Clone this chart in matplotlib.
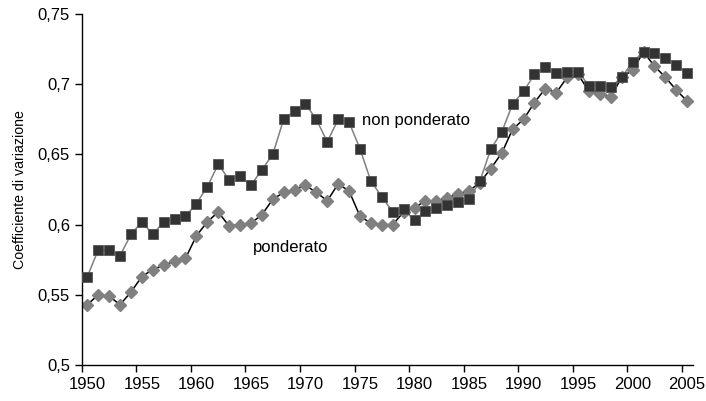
import matplotlib
matplotlib.use("Agg")
import matplotlib.pyplot as plt
import numpy as np

# years 1950-2005
years = list(range(1950, 2006))

non_ponderato = [
    0.563, 0.582, 0.582, 0.578, 0.593, 0.602, 0.593, 0.602, 0.604, 0.606,
    0.615, 0.627, 0.643, 0.632, 0.635, 0.628, 0.639, 0.650, 0.675, 0.681,
    0.686, 0.675, 0.659, 0.675, 0.673, 0.654, 0.631, 0.620, 0.609, 0.611,
    0.603, 0.610, 0.612, 0.614, 0.616, 0.618, 0.631, 0.654, 0.666, 0.686,
    0.695, 0.707, 0.712, 0.708, 0.709, 0.709, 0.699, 0.699, 0.698, 0.705,
    0.716, 0.723, 0.722, 0.719, 0.714, 0.708,
]

ponderato = [
    0.543, 0.550, 0.549, 0.543, 0.552, 0.563, 0.568, 0.571, 0.574, 0.576,
    0.592, 0.602, 0.609, 0.599, 0.600, 0.601, 0.607, 0.618, 0.623, 0.625,
    0.628, 0.623, 0.617, 0.629, 0.624, 0.606, 0.601, 0.600, 0.600, 0.609,
    0.612, 0.617, 0.617, 0.619, 0.622, 0.624, 0.630, 0.640, 0.651, 0.668,
    0.675, 0.687, 0.697, 0.694, 0.705, 0.707, 0.695, 0.693, 0.691, 0.705,
    0.710, 0.723, 0.713, 0.705, 0.696, 0.688,
]

y_ticks = [0.5, 0.55, 0.6, 0.65, 0.7, 0.75]
y_tick_labels = ["0,5", "0,55", "0,6", "0,65", "0,7", "0,75"]
x_labels = list(range(1950, 2010, 5))

plt.rcParams['font.family'] = ['Liberation Sans', 'DejaVu Sans']

fig = plt.figure(figsize=(7.06, 4.01), dpi=100, facecolor='white')
ax = fig.add_axes([0.116, 0.0898, 0.865, 0.875])

ax.plot(years, ponderato, color='black', linewidth=1.1, marker='D',
        markersize=5.8, markerfacecolor='#808080', markeredgecolor='#808080',
        zorder=2)
ax.plot(years, non_ponderato, color='#808080', linewidth=1.1, marker='s',
        markersize=7.2, markerfacecolor='#333333', markeredgecolor='#555555',
        markeredgewidth=0.6, zorder=3)

ax.text(1975.2, 0.674, 'non ponderato', fontsize=12, va='center', ha='left')
ax.text(1965.2, 0.584, 'ponderato', fontsize=12, va='center', ha='left')

ax.set_xlim(1949.5, 2005.5)
ax.set_ylim(0.5, 0.75)
ax.set_yticks(y_ticks)
ax.set_yticklabels(y_tick_labels, fontsize=12)
ax.set_ylabel('Coefficiente di variazione', fontsize=10.2, labelpad=8)

# labels under category centres, tick marks between categories
ax.set_xticks(x_labels)
ax.set_xticklabels([str(y) for y in x_labels], fontsize=12)
ax.tick_params(axis='x', which='major', length=0, pad=9)
ax.set_xticks(np.arange(1949.5, 2005, 5), minor=True)
ax.tick_params(axis='x', which='minor', length=5, direction='out', width=1)
ax.tick_params(axis='y', length=5, direction='out', width=1)

for side in ['top', 'right']:
    ax.spines[side].set_visible(False)
for side in ['left', 'bottom']:
    ax.spines[side].set_linewidth(1)
    ax.spines[side].set_color('black')

fig.savefig('out.png', dpi=100, facecolor='white')
